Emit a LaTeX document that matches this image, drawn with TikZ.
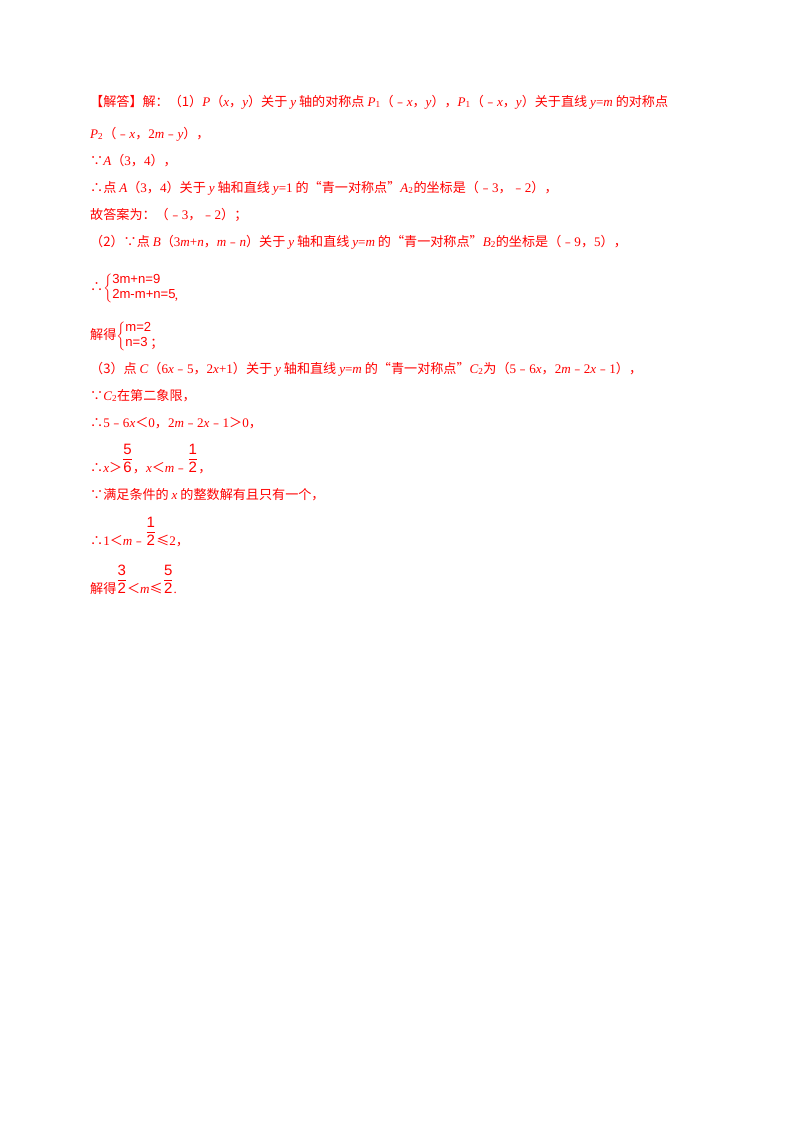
\documentclass[tikz,border=0pt]{standalone}
\usepackage{fontspec}
\usepackage{amsmath}
\setmainfont{Noto Sans CJK SC}
\newfontfamily\lat{Liberation Serif}
\newfontfamily\lsans{Liberation Sans}
\newcommand{\vv}[1]{{\lat\itshape #1}}
\newcommand{\fr}[2]{\raisebox{1.3ex}{$\genfrac{}{}{0.6pt}{0}{\text{\fontsize{15}{15}\lsans #1}}{\text{\fontsize{15}{15}\lsans #2}}$}}
\begin{document}
\begin{tikzpicture}[x=1pt,y=-1pt,
  ln/.style={anchor=base west,inner sep=0pt,text=red,font=\fontsize{13.1}{15}\selectfont}]
\useasboundingbox (0,0) rectangle (800,1132);
\fill[white] (0,0) rectangle (800,1132);
\node[ln] (l1) at (90,106) {【解答】解：（1）\vv{P}（\vv{x}，\vv{y}）关于 \vv{y} 轴的对称点 \vv{P}{\lat\textsubscript{1}}（﹣\vv{x}，\vv{y}），\vv{P}{\lat\textsubscript{1}}（﹣\vv{x}，\vv{y}）关于直线 \vv{y}{\lat =}\vv{m} 的对称点};
\node[ln] (l2) at (90,138) {\vv{P}{\lat\textsubscript{2}}（﹣\vv{x}，{\lat 2}\vv{m}﹣\vv{y}），};
\node[ln] (l3) at (90,165) {∵\vv{A}（{\lat 3}，{\lat 4}），};
\node[ln] (l4) at (90,192) {∴点 \vv{A}（{\lat 3}，{\lat 4}）关于 \vv{y} 轴和直线 \vv{y}{\lat =1} 的“青一对称点”\vv{A}{\lat\textsubscript{2}}的坐标是（﹣{\lat 3}，﹣{\lat 2}），};
\node[ln] (l5) at (90,219) {故答案为：（﹣{\lat 3}，﹣{\lat 2}）；};
\node[ln] (l6) at (90,246) {（2）∵点 \vv{B}（{\lat 3}\vv{m}{\lat +}\vv{n}，\vv{m}﹣\vv{n}）关于 \vv{y} 轴和直线 \vv{y}{\lat =}\vv{m} 的“青一对称点”\vv{B}{\lat\textsubscript{2}}的坐标是（﹣{\lat 9}，{\lat 5}），};
\node[ln] (l7) at (90,291) {∴$\left\{\begin{array}{@{}l@{}}\text{\lsans 3m+n=9}\\ \text{\lsans 2m-m+n=5}\end{array}\right.$\hspace{-2pt}\raisebox{-1.2ex}{\lat ,}};
\node[ln] (l8) at (90,339) {解得$\left\{\begin{array}{@{}l@{}}\text{\lsans m=2}\\ \text{\lsans n=3}\end{array}\right.$\hspace{-2pt}\raisebox{-1.2ex}{；}};
\node[ln] (l9) at (90,373) {（3）点 \vv{C}（{\lat 6}\vv{x}﹣{\lat 5}，{\lat 2}\vv{x}{\lat +1}）关于 \vv{y} 轴和直线 \vv{y}{\lat =}\vv{m} 的“青一对称点”\vv{C}{\lat\textsubscript{2}}为（{\lat 5}﹣{\lat 6}\vv{x}，{\lat 2}\vv{m}﹣{\lat 2}\vv{x}﹣{\lat 1}），};
\node[ln] (l10) at (90,400) {∵\vv{C}{\lat\textsubscript{2}}在第二象限，};
\node[ln] (l11) at (90,427) {∴{\lat 5}﹣{\lat 6}\vv{x}＜{\lat 0}，{\lat 2}\vv{m}﹣{\lat 2}\vv{x}﹣{\lat 1}＞{\lat 0}，};
\node[ln] (l12) at (90,472) {∴\vv{x}＞\fr{5}{6}，\vv{x}＜\vv{m}﹣\fr{1}{2}，};
\node[ln] (l13) at (90,499) {∵满足条件的 \vv{x} 的整数解有且只有一个，};
\node[ln] (l14) at (90,545) {∴{\lat 1}＜\vv{m}﹣\fr{1}{2}≤{\lat 2}，};
\node[ln] (l15) at (90,593) {解得\fr{3}{2}＜\vv{m}≤\fr{5}{2}{\lat .}};
\end{tikzpicture}
\end{document}
